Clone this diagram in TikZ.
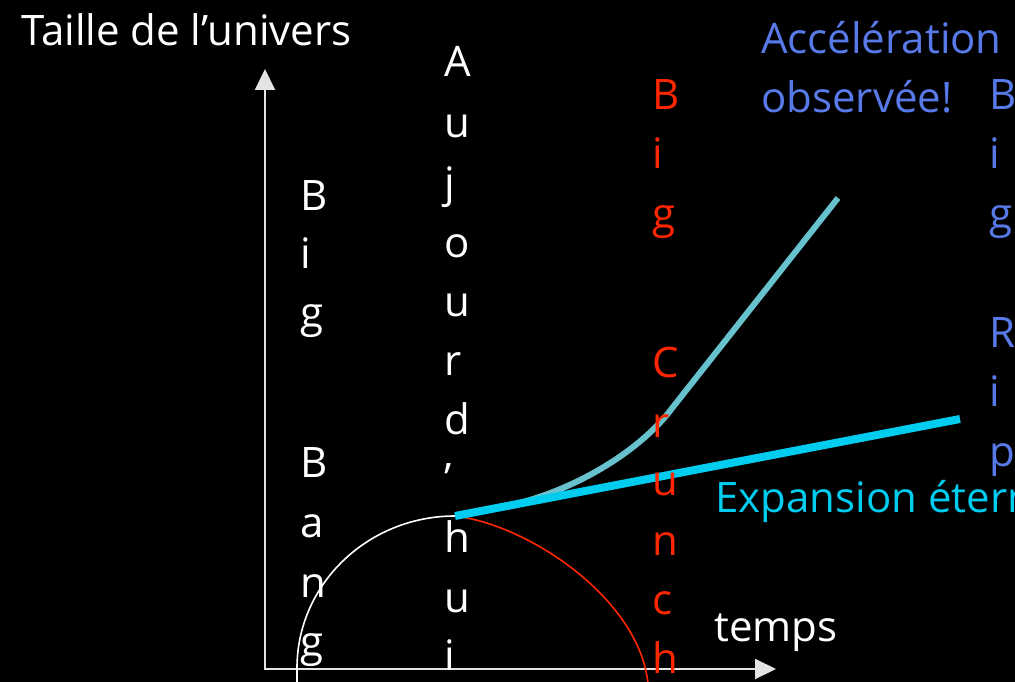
\documentclass[tikz,border=0pt]{standalone}
\usepackage{fontspec}
\setmainfont{Open Sans}
\usetikzlibrary{arrows.meta}
\definecolor{crunchred}{RGB}{255,38,0}
\definecolor{ripblue}{RGB}{88,122,232}
\definecolor{expcyan}{RGB}{0,204,240}
\definecolor{accteal}{RGB}{104,194,206}
\definecolor{axisgray}{RGB}{228,228,228}
\begin{document}
\begin{tikzpicture}[x=1pt,y=-1pt,
  txt/.style={inner sep=0pt, anchor=base west, font=\fontsize{42}{42}\selectfont},
  axisline/.style={draw=axisgray, line width=2pt, -{Triangle[length=21pt,width=20pt]}},
  curvewhite/.style={draw=white, line width=1.6pt},
  curvered/.style={draw=crunchred, line width=1.6pt},
  curveteal/.style={draw=accteal, line width=6pt},
  curvecyan/.style={draw=expcyan, line width=8pt}]
\path[use as bounding box] (0,0) rectangle (1015,682);
\fill[black] (0,0) rectangle (1015,682);
\clip (0,0) rectangle (1015,682);

% coordinates
\coordinate (origin) at (265,669);
\coordinate (ybase) at (265,670);
\coordinate (ytip) at (265,69);
\coordinate (xbase) at (264,669);
\coordinate (xtip) at (776,669);
\coordinate (bang) at (297,684);
\coordinate (bangaxis) at (297,668);
\coordinate (today) at (455,516);
\coordinate (accstart) at (500,507.4);
\coordinate (crunch) at (648,684);
\coordinate (bend) at (673,407);
\coordinate (accend) at (838,198);
\coordinate (expend) at (960,419);

% axes
\draw[axisline] (ybase) -- (ytip);
\draw[axisline] (xbase) -- (xtip);

% curves
\draw[curvewhite] (bang) -- (bangaxis) .. controls (297,584) and (368,516) .. (today);
\draw[curvered] (today) .. controls (530,525) and (640,600) .. (crunch);
\draw[curveteal] (accstart) .. controls (570,494) and (640,452) .. (bend) -- (accend);
\draw[curvecyan] (today) -- (expend);

% labels
\node[txt, white] (taille) at (21,46) {Taille de l’univers};
\node[txt, ripblue] (acc) at (761,54) {Accélération};
\node[txt, ripblue] (obs) at (761,113) {observée!};
\node[txt, expcyan] (expansion) at (715,512) {Expansion éternelle};
\node[txt, white] (temps) at (714,641) {temps};

% vertical words
\foreach \t/\y [count=\k] in {B/210, i/268, g/327, B/477, a/537, n/597, g/656}
  \node[txt, white] (bigbang\k) at (300,\y) {\t};
\foreach \t/\y [count=\k] in {A/77, u/138, j/197, o/257, u/316, r/375, d/434, ’/493, h/552, u/612, i/670}
  \node[txt, white] (auj\k) at (444,\y) {\t};
\foreach \t/\y [count=\k] in {B/110, i/168, g/228, C/377, r/437, u/495, n/555, c/614, h/673}
  \node[txt, crunchred] (bigcrunch\k) at (652,\y) {\t};
\foreach \t/\y [count=\k] in {B/110, i/168, g/228, R/347, i/406, p/466}
  \node[txt, ripblue] (bigrip\k) at (989,\y) {\t};
\end{tikzpicture}
\end{document}
